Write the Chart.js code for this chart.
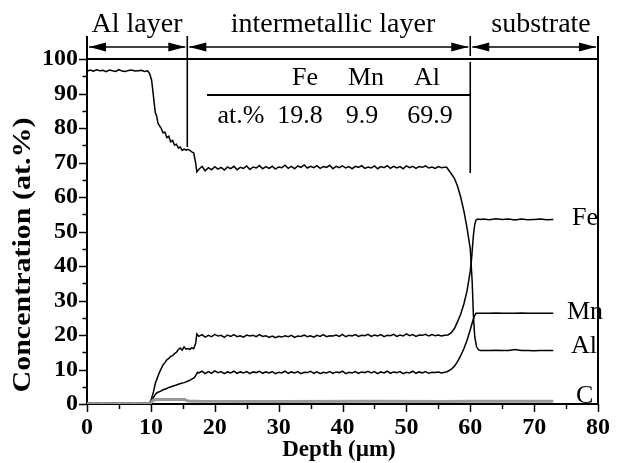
<!DOCTYPE html>
<html><head><meta charset="utf-8">
<script src="https://cdn.jsdelivr.net/npm/chart.js@4/dist/chart.umd.min.js"></script>
<style>html,body{margin:0;padding:0;background:#fff;}canvas{display:block;}</style>
</head><body>
<canvas id="c" width="619" height="463"></canvas>
<script>
// ---- sampled depths (µm) ----
const depthSurface = [0,0.5,1,1.5,2,2.5,3,3.5,4,4.5,5,5.5,6,6.5,7,7.5,8,8.5,9,9.5];
const depthPlateau = [17.5,18,18.5,19,19.5,20,20.5,21,21.5,22,
  22.5,23,23.5,24,24.5,25,25.5,26,26.5,27,
  27.5,28,28.5,29,29.5,30,30.5,31,31.5,32,
  32.5,33,33.5,34,34.5,35,35.5,36,36.5,37,
  37.5,38,38.5,39,39.5,40,40.5,41,41.5,42,
  42.5,43,43.5,44,44.5,45,45.5,46,46.5,47,
  47.5,48,48.5,49,49.5,50,50.5,51,51.5,52,
  52.5,53,53.5,54,54.5,55,55.5,56];
const depthSubstrate = [62,63,64,65,66,67,68,69,70,71,72,73];

// ---- Al ----
const alSurface = [96.4,96.8,96.5,96.9,96.6,96.7,96.3,96.8,96.6,96.4,96.9,96.5,96.4,96.7,96.8,96.5,96.6,96.7,96.4,96.6];
const alDropDepth = [9.8,10.1,10.3,10.5,10.7,10.9,11.1,11.3,11.6,11.9,12.2,12.5,12.8,13.1,13.4,13.7,14.0,14.3,14.6,14.9,15.2,15.5,15.8,16.1,16.4,16.7,17.0,17.2];
const alDrop = [95.8,94.0,91.0,87.5,84.5,83.5,81.5,80.8,80.0,78.6,78.8,77.2,77.6,76.0,76.4,75.0,75.3,74.2,74.5,73.5,73.9,73.6,73.8,73.5,73.1,72.8,70.0,67.3];
const alPlateau = [68.0,68.9,67.6,68.5,67.9,68.8,68.1,68.6,67.8,68.7,
  68.2,68.9,67.9,68.6,68.3,69.0,68.0,68.7,68.4,69.1,
  68.2,68.8,68.3,68.9,68.1,68.7,68.5,69.2,68.3,68.9,
  68.2,69.0,68.6,69.3,68.4,68.9,68.5,69.1,68.3,68.8,
  68.6,69.2,68.2,68.9,68.5,69.0,68.4,68.8,68.2,68.9,
  68.6,69.1,68.3,68.7,68.4,69.0,68.2,68.8,68.5,69.1,
  68.3,68.9,68.4,68.8,68.2,69.0,68.5,68.9,68.3,68.8,
  68.6,69.0,68.4,68.7,68.3,68.8,68.5,68.6];
const alEdgeDepth = [56.3,57,57.5,58,58.5,59,59.5,60,60.3,60.5,60.7,61.0,61.3,61.6];
const alEdge = [68.6,66.8,65.5,63.2,60.0,56.0,51.0,45.0,35.5,25.5,19.5,16.5,15.7,15.5];
const alSubstrate = [15.5,15.5,15.6,15.5,15.5,15.8,15.5,15.5,15.4,15.5,15.5,15.5];

// ---- Fe ----
const feSurface = [0.2,0.3,0.2,0.3,0.2,0.2,0.3,0.2,0.3,0.2,0.2,0.3,0.2,0.3,0.2,0.2,0.3,0.2,0.3,0.2];
const feRiseDepth = [9.8,10.1,10.4,10.7,11.0,11.3,11.6,11.9,12.2,12.5,12.8,13.1,13.4,13.7,14.0,14.3,14.6,14.9,15.2,15.5,15.8,16.1,16.4,16.7,17.0,17.2];
const feRise = [0.3,1.5,3.5,6.0,7.5,9.0,10.2,11.3,12.0,12.8,13.2,13.8,14.0,14.6,15.0,15.8,16.2,15.6,16.6,15.9,16.1,15.8,16.3,16.0,17.5,20.3];
const fePlateau = [19.6,20.1,19.4,19.9,19.5,20.2,19.7,19.9,19.3,20.0,
  19.6,20.1,19.5,19.8,19.4,20.0,19.7,19.9,19.5,20.1,
  19.6,19.8,19.3,19.7,19.2,19.6,19.4,19.8,19.5,19.9,
  19.3,19.7,19.6,20.0,19.5,19.8,19.4,19.9,19.6,20.1,
  19.5,19.8,19.7,20.0,19.6,20.2,19.5,19.9,19.7,20.1,
  19.6,19.9,19.8,20.2,19.6,20.0,19.7,20.1,19.5,19.9,
  19.8,20.2,19.6,20.0,19.7,20.3,19.8,20.1,19.6,20.0,
  19.9,20.2,19.7,20.1,19.8,20.0,19.7,19.9];
const feEdgeDepth = [56.5,57,57.5,58,58.5,59,59.5,60,60.2,60.5,60.7,60.9,61.2,61.6];
const feEdge = [20.0,20.6,21.8,23.8,26.0,29.0,32.8,38.5,42.0,49.0,52.0,53.3,53.6,53.5];
const feSubstrate = [53.6,53.4,53.7,53.5,53.6,53.3,53.6,53.4,53.5,53.6,53.4,53.5];

// ---- Mn ----
const mnSurface = [0.1,0.2,0.1,0.2,0.1,0.1,0.2,0.1,0.2,0.1,0.1,0.2,0.1,0.2,0.1,0.1,0.2,0.1,0.2,0.1];
const mnRiseDepth = [9.8,10.2,10.5,10.8,11.1,11.4,11.7,12.0,12.4,12.8,13.2,13.6,14.0,14.4,14.8,15.2,15.6,16.0,16.4,16.8,17.1,17.3];
const mnRise = [0.2,1.0,2.2,3.0,3.4,3.6,3.9,4.2,4.4,4.8,5.0,5.3,5.5,5.8,6.0,6.2,6.5,6.8,7.2,7.6,8.5,9.2];
const mnPlateau = [9.0,9.5,8.8,9.4,8.9,9.6,9.1,9.4,8.8,9.3,
  9.0,9.5,8.9,9.3,9.0,9.4,8.8,9.3,9.1,9.5,
  8.9,9.3,9.0,9.4,8.8,9.2,9.0,9.5,8.9,9.3,
  9.0,9.4,8.8,9.2,9.1,9.5,8.9,9.3,8.8,9.2,
  9.0,9.4,8.9,9.3,9.1,9.5,8.8,9.2,9.0,9.4,
  8.9,9.3,9.1,9.5,9.0,9.4,8.8,9.3,9.0,9.5,
  8.9,9.3,9.1,9.4,8.8,9.2,9.0,9.5,8.9,9.3,
  9.0,9.4,8.9,9.2,9.1,9.3,9.0,9.2];
const mnEdgeDepth = [56.3,57,57.5,58,58.5,59,59.5,60,60.3,60.6,60.9,61.3];
const mnEdge = [9.3,10.0,10.9,12.3,14.0,16.0,18.5,21.5,23.5,25.3,26.3,26.3];
const mnSubstrate = [26.3,26.3,26.4,26.3,26.3,26.3,26.4,26.3,26.3,26.3,26.3,26.3];

// ---- C ----
const cDepth = [0,9.8,10.3,10.8,15.3,15.8,17.5,30,45,56,60,62,73];
const cConc  = [0.1,0.1,1.0,1.3,1.3,0.9,0.8,0.7,0.8,0.7,0.8,0.8,0.8];

// ---- axis ticks & labels ----
const xTicks = [0,10,20,30,40,50,60,70,80];
const yTicks = [0,10,20,30,40,50,60,70,80,90,100];
const elementLabels = ['Fe','Mn','Al','C'];
const layerLabels = ['Al layer','intermetallic layer','substrate'];
const tableHeader = ['Fe','Mn','Al'];
const tableRow = ['at.%','19.8','9.9','69.9'];
const boundaries = [0, 15.7, 60, 80];

function pts(xs, ys){ return xs.map((x,i)=>({x:x, y:ys[i]})); }
function series(parts){ let out=[]; parts.forEach(p=>{ out = out.concat(pts(p[0],p[1])); }); return out; }

const alData = series([[depthSurface,alSurface],[alDropDepth,alDrop],[depthPlateau,alPlateau],[alEdgeDepth,alEdge],[depthSubstrate,alSubstrate]]);
const feData = series([[depthSurface,feSurface],[feRiseDepth,feRise],[depthPlateau,fePlateau],[feEdgeDepth,feEdge],[depthSubstrate,feSubstrate]]);
const mnData = series([[depthSurface,mnSurface],[mnRiseDepth,mnRise],[depthPlateau,mnPlateau],[mnEdgeDepth,mnEdge],[depthSubstrate,mnSubstrate]]);
const cData = pts(cDepth, cConc);

const SERIF = '"Liberation Serif", "Times New Roman", serif';

const decor = {
  id:'decor',
  afterDraw(chart){
    const ctx = chart.ctx, xs = chart.scales.x, ys = chart.scales.y;
    const L = xs.left, R = xs.right, T = ys.top, B = ys.bottom;
    const px = v=>xs.getPixelForValue(v), py = v=>ys.getPixelForValue(v);
    ctx.save();
    ctx.strokeStyle = '#000'; ctx.fillStyle = '#000';
    // frame top & right
    ctx.lineWidth = 2;
    ctx.beginPath(); ctx.moveTo(L, T); ctx.lineTo(px(80), T); ctx.stroke();
    ctx.beginPath(); ctx.moveTo(px(80), 36); ctx.lineTo(px(80), B); ctx.stroke();
    ctx.beginPath(); ctx.moveTo(px(0), 36); ctx.lineTo(px(0), T); ctx.stroke();
    // ticks
    ctx.lineWidth = 1.5;
    for (let v=0; v<=100; v+=5){
      const len = v%10===0 ? 8 : 4.5; const y = Math.round(py(v))+0.5;
      ctx.beginPath(); ctx.moveTo(L, y); ctx.lineTo(L-len, y); ctx.stroke();
    }
    for (let v=0; v<=80; v+=5){
      const len = v%10===0 ? 8 : 5; const x = Math.round(px(v))+0.5;
      ctx.beginPath(); ctx.moveTo(x, B); ctx.lineTo(x, B+len); ctx.stroke();
    }
    // boundary markers
    ctx.lineWidth = 1.6;
    ctx.beginPath(); ctx.moveTo(px(boundaries[1]), 36); ctx.lineTo(px(boundaries[1]), 147); ctx.stroke();
    ctx.beginPath(); ctx.moveTo(px(boundaries[2]), 36); ctx.lineTo(px(boundaries[2]), 56); ctx.stroke();
    ctx.beginPath(); ctx.moveTo(px(boundaries[2]), 62); ctx.lineTo(px(boundaries[2]), 173); ctx.stroke();
    // arrows
    const ay = 47;
    function head(tip, dir){
      ctx.beginPath(); ctx.moveTo(tip, ay); ctx.lineTo(tip - dir*17, ay-4.5); ctx.lineTo(tip - dir*17, ay+4.5); ctx.closePath(); ctx.fill();
    }
    for (let i=0;i<3;i++){
      const a = px(boundaries[i]) + 2, b = px(boundaries[i+1]) - 2;
      ctx.lineWidth = 1.5;
      ctx.beginPath(); ctx.moveTo(a, ay); ctx.lineTo(b, ay); ctx.stroke();
      head(a, -1); head(b, 1);
    }
    // layer labels
    ctx.font = '28px ' + SERIF; ctx.textAlign = 'center'; ctx.textBaseline = 'alphabetic';
    ctx.fillText(layerLabels[0], 137, 32);
    ctx.fillText(layerLabels[1], 333, 32);
    ctx.fillText(layerLabels[2], 541, 32);
    // composition table
    ctx.font = '26px ' + SERIF;
    ctx.fillText(tableHeader[0], 305, 85);
    ctx.fillText(tableHeader[1], 366, 85);
    ctx.fillText(tableHeader[2], 427, 85);
    ctx.fillText(tableRow[0], 241, 123);
    ctx.fillText(tableRow[1], 300, 123);
    ctx.fillText(tableRow[2], 362, 123);
    ctx.fillText(tableRow[3], 430, 123);
    ctx.lineWidth = 2;
    ctx.beginPath(); ctx.moveTo(207, 95); ctx.lineTo(470, 95); ctx.stroke();
    // element labels
    ctx.textAlign = 'left';
    ctx.fillText(elementLabels[0], 572, 225);
    ctx.fillText(elementLabels[1], 567, 319);
    ctx.fillText(elementLabels[2], 571, 353);
    ctx.fillText(elementLabels[3], 576, 403);
    // axis titles
    ctx.font = 'bold 23px ' + SERIF; ctx.textAlign = 'center';
    ctx.fillText('Depth (\u00b5m)', 339, 456);
    ctx.save();
    ctx.translate(30, 255); ctx.rotate(-Math.PI/2); ctx.scale(1.2, 1);
    ctx.font = 'bold 25px ' + SERIF;
    ctx.fillText('Concentration (at.%)', 0, 0);
    ctx.restore();
    ctx.restore();
  }
};

const lineDs = (label, data, color, w) => ({label, data, borderColor: color, borderWidth: w, pointRadius: 0, fill:false, tension:0});

new Chart(document.getElementById('c'), {
  type: 'line',
  data: { datasets: [
    lineDs('C', cData, '#999999', 3),
    lineDs('Mn', mnData, '#000', 1.5),
    lineDs('Fe', feData, '#000', 1.5),
    lineDs('Al', alData, '#000', 1.5)
  ]},
  options: {
    responsive: false, animation: false, devicePixelRatio: 1,
    layout: { padding: { top: 59, right: 12, left: 0, bottom: 0 } },
    plugins: { legend: { display: false }, tooltip: { enabled: false } },
    scales: {
      x: {
        type: 'linear', min: 0, max: 80,
        afterFit: s => { s.height = 59; },
        afterBuildTicks: s => { s.ticks = xTicks.map(v => ({value: v})); },
        grid: { display: false, drawTicks: false },
        border: { display: true, color: '#000', width: 2 },
        ticks: { color: '#000', padding: 9, maxRotation: 0, autoSkip: false,
          font: { family: SERIF, size: 24, weight: 'bold' } }
      },
      y: {
        min: 0, max: 100,
        afterFit: s => { s.width = 87; },
        afterBuildTicks: s => { s.ticks = yTicks.map(v => ({value: v})); },
        grid: { display: false, drawTicks: false },
        border: { display: true, color: '#000', width: 2 },
        ticks: { color: '#000', padding: 9, autoSkip: false,
          font: { family: SERIF, size: 24, weight: 'bold' } }
      }
    }
  },
  plugins: [decor]
});
</script>
</body></html>
